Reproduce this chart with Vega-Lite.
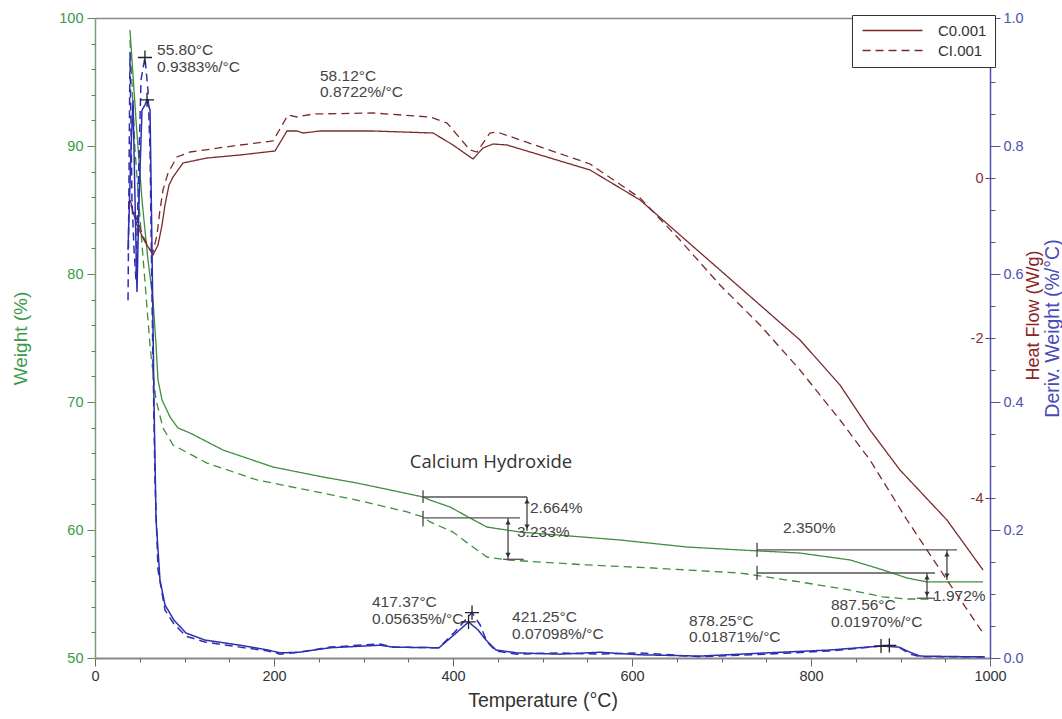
{
  "$schema": "https://vega.github.io/schema/vega-lite/v6.json",
  "width": 895,
  "height": 640,
  "autosize": {"type": "none"},
  "padding": {"left": 95, "top": 18, "right": 72, "bottom": 61},
  "background": "white",
  "config": {
    "view": {"stroke": null},
    "font": "Liberation Sans",
    "axis": {"grid": false, "labelFont": "Liberation Sans", "titleFont": "Liberation Sans", "titleFontWeight": "normal"}
  },
  "datasets": {
    "weight": [
      {"T": 39.1, "w": 99.06, "s": "C0.001"}, {"T": 45.8, "w": 92.03, "s": "C0.001"}, {"T": 52.5, "w": 85.78, "s": "C0.001"},
      {"T": 59.2, "w": 81.09, "s": "C0.001"}, {"T": 64.8, "w": 77.97, "s": "C0.001"}, {"T": 68.2, "w": 74.45, "s": "C0.001"},
      {"T": 70.4, "w": 71.72, "s": "C0.001"}, {"T": 74.9, "w": 70.16, "s": "C0.001"}, {"T": 83.8, "w": 68.83, "s": "C0.001"},
      {"T": 92.7, "w": 67.97, "s": "C0.001"}, {"T": 106.1, "w": 67.58, "s": "C0.001"}, {"T": 143.0, "w": 66.25, "s": "C0.001"},
      {"T": 198.9, "w": 64.92, "s": "C0.001"}, {"T": 254.7, "w": 64.14, "s": "C0.001"}, {"T": 292.7, "w": 63.67, "s": "C0.001"},
      {"T": 329.6, "w": 63.13, "s": "C0.001"}, {"T": 366.5, "w": 62.58, "s": "C0.001"}, {"T": 374.3, "w": 62.34, "s": "C0.001"},
      {"T": 396.6, "w": 61.80, "s": "C0.001"}, {"T": 419.0, "w": 60.94, "s": "C0.001"}, {"T": 438.0, "w": 60.23, "s": "C0.001"},
      {"T": 474.9, "w": 59.84, "s": "C0.001"}, {"T": 530.7, "w": 59.53, "s": "C0.001"}, {"T": 586.6, "w": 59.22, "s": "C0.001"},
      {"T": 661.5, "w": 58.67, "s": "C0.001"}, {"T": 720.7, "w": 58.44, "s": "C0.001"}, {"T": 787.7, "w": 58.20, "s": "C0.001"},
      {"T": 843.6, "w": 57.66, "s": "C0.001"}, {"T": 880.4, "w": 56.88, "s": "C0.001"}, {"T": 907.3, "w": 56.25, "s": "C0.001"},
      {"T": 929.6, "w": 55.94, "s": "C0.001"}, {"T": 992.2, "w": 55.94, "s": "C0.001"},
      {"T": 39.1, "w": 98.28, "s": "CI.001"}, {"T": 44.7, "w": 89.69, "s": "CI.001"}, {"T": 52.5, "w": 82.34, "s": "CI.001"},
      {"T": 61.5, "w": 74.38, "s": "CI.001"}, {"T": 68.2, "w": 70.16, "s": "CI.001"}, {"T": 76.0, "w": 67.97, "s": "CI.001"},
      {"T": 87.2, "w": 66.64, "s": "CI.001"}, {"T": 125.1, "w": 65.23, "s": "CI.001"}, {"T": 181.0, "w": 63.91, "s": "CI.001"},
      {"T": 236.9, "w": 63.13, "s": "CI.001"}, {"T": 292.7, "w": 62.34, "s": "CI.001"}, {"T": 348.6, "w": 61.41, "s": "CI.001"},
      {"T": 366.5, "w": 61.02, "s": "CI.001"}, {"T": 374.3, "w": 60.63, "s": "CI.001"}, {"T": 400.0, "w": 59.84, "s": "CI.001"},
      {"T": 419.0, "w": 58.83, "s": "CI.001"}, {"T": 438.0, "w": 57.89, "s": "CI.001"}, {"T": 460.3, "w": 57.66, "s": "CI.001"},
      {"T": 549.7, "w": 57.27, "s": "CI.001"}, {"T": 623.5, "w": 57.03, "s": "CI.001"}, {"T": 720.7, "w": 56.64, "s": "CI.001"},
      {"T": 787.7, "w": 55.94, "s": "CI.001"}, {"T": 843.6, "w": 55.31, "s": "CI.001"}, {"T": 880.4, "w": 54.77, "s": "CI.001"},
      {"T": 907.3, "w": 54.61, "s": "CI.001"}, {"T": 938.5, "w": 54.61, "s": "CI.001"}
    ],
    "heat": [
      {"T": 40.2, "h": -0.338, "s": "C0.001"}, {"T": 46.9, "h": -0.588, "s": "C0.001"}, {"T": 54.7, "h": -0.775, "s": "C0.001"},
      {"T": 61.5, "h": -0.9, "s": "C0.001"}, {"T": 64.8, "h": -0.963, "s": "C0.001"}, {"T": 70.4, "h": -0.838, "s": "C0.001"},
      {"T": 74.9, "h": -0.588, "s": "C0.001"}, {"T": 78.2, "h": -0.338, "s": "C0.001"}, {"T": 82.7, "h": -0.088, "s": "C0.001"},
      {"T": 87.2, "h": 0.0125, "s": "C0.001"}, {"T": 98.3, "h": 0.1875, "s": "C0.001"}, {"T": 125.1, "h": 0.25, "s": "C0.001"},
      {"T": 162.0, "h": 0.2875, "s": "C0.001"}, {"T": 201.1, "h": 0.3375, "s": "C0.001"}, {"T": 214.5, "h": 0.5875, "s": "C0.001"},
      {"T": 225.7, "h": 0.5875, "s": "C0.001"}, {"T": 232.4, "h": 0.5625, "s": "C0.001"}, {"T": 251.4, "h": 0.5875, "s": "C0.001"},
      {"T": 310.6, "h": 0.5875, "s": "C0.001"}, {"T": 377.7, "h": 0.5625, "s": "C0.001"}, {"T": 400.0, "h": 0.4125, "s": "C0.001"},
      {"T": 422.3, "h": 0.2375, "s": "C0.001"}, {"T": 433.5, "h": 0.375, "s": "C0.001"}, {"T": 444.7, "h": 0.425, "s": "C0.001"},
      {"T": 460.3, "h": 0.4125, "s": "C0.001"}, {"T": 553.1, "h": 0.1, "s": "C0.001"}, {"T": 609.0, "h": -0.275, "s": "C0.001"},
      {"T": 653.6, "h": -0.7125, "s": "C0.001"}, {"T": 698.3, "h": -1.15, "s": "C0.001"}, {"T": 743.0, "h": -1.5875, "s": "C0.001"},
      {"T": 787.7, "h": -2.025, "s": "C0.001"}, {"T": 832.4, "h": -2.5875, "s": "C0.001"}, {"T": 865.9, "h": -3.15, "s": "C0.001"},
      {"T": 899.4, "h": -3.65, "s": "C0.001"}, {"T": 951.9, "h": -4.275, "s": "C0.001"}, {"T": 992.2, "h": -4.9, "s": "C0.001"},
      {"T": 39.1, "h": -0.275, "s": "CI.001"}, {"T": 46.9, "h": -0.525, "s": "CI.001"}, {"T": 54.7, "h": -0.75, "s": "CI.001"},
      {"T": 61.5, "h": -0.9, "s": "CI.001"}, {"T": 64.8, "h": -0.925, "s": "CI.001"}, {"T": 69.3, "h": -0.7125, "s": "CI.001"},
      {"T": 72.6, "h": -0.4, "s": "CI.001"}, {"T": 76.0, "h": -0.15, "s": "CI.001"}, {"T": 81.6, "h": 0.0625, "s": "CI.001"},
      {"T": 91.6, "h": 0.2625, "s": "CI.001"}, {"T": 106.1, "h": 0.325, "s": "CI.001"}, {"T": 162.0, "h": 0.4125, "s": "CI.001"},
      {"T": 198.9, "h": 0.4625, "s": "CI.001"}, {"T": 215.6, "h": 0.7875, "s": "CI.001"}, {"T": 225.7, "h": 0.7625, "s": "CI.001"},
      {"T": 243.6, "h": 0.8, "s": "CI.001"}, {"T": 310.6, "h": 0.8125, "s": "CI.001"}, {"T": 374.3, "h": 0.7625, "s": "CI.001"},
      {"T": 393.3, "h": 0.6875, "s": "CI.001"}, {"T": 419.0, "h": 0.35, "s": "CI.001"}, {"T": 426.8, "h": 0.325, "s": "CI.001"},
      {"T": 441.3, "h": 0.5625, "s": "CI.001"}, {"T": 449.2, "h": 0.575, "s": "CI.001"}, {"T": 553.1, "h": 0.175, "s": "CI.001"},
      {"T": 609.0, "h": -0.25, "s": "CI.001"}, {"T": 653.6, "h": -0.775, "s": "CI.001"}, {"T": 698.3, "h": -1.3375, "s": "CI.001"},
      {"T": 743.0, "h": -1.8375, "s": "CI.001"}, {"T": 787.7, "h": -2.4, "s": "CI.001"}, {"T": 832.4, "h": -3.025, "s": "CI.001"},
      {"T": 865.9, "h": -3.525, "s": "CI.001"}, {"T": 907.3, "h": -4.275, "s": "CI.001"}, {"T": 951.9, "h": -5.025, "s": "CI.001"},
      {"T": 992.2, "h": -5.6875, "s": "CI.001"}
    ],
    "deriv": [
      {"T": 36.9, "d": 0.6375, "s": "C0.001"}, {"T": 40.2, "d": 0.794, "s": "C0.001"}, {"T": 42.5, "d": 0.872, "s": "C0.001"},
      {"T": 44.7, "d": 0.716, "s": "C0.001"}, {"T": 46.9, "d": 0.572, "s": "C0.001"}, {"T": 49.2, "d": 0.716, "s": "C0.001"},
      {"T": 52.5, "d": 0.856, "s": "C0.001"}, {"T": 55.8, "d": 0.864, "s": "C0.001"}, {"T": 58.12, "d": 0.8722, "s": "C0.001"},
      {"T": 61.5, "d": 0.856, "s": "C0.001"}, {"T": 63.7, "d": 0.6375, "s": "C0.001"}, {"T": 65.9, "d": 0.403, "s": "C0.001"},
      {"T": 68.2, "d": 0.216, "s": "C0.001"}, {"T": 72.6, "d": 0.122, "s": "C0.001"}, {"T": 78.2, "d": 0.083, "s": "C0.001"},
      {"T": 88.3, "d": 0.059, "s": "C0.001"}, {"T": 101.7, "d": 0.039, "s": "C0.001"}, {"T": 122.9, "d": 0.028, "s": "C0.001"},
      {"T": 162.0, "d": 0.02, "s": "C0.001"}, {"T": 193.3, "d": 0.0125, "s": "C0.001"}, {"T": 206.7, "d": 0.008, "s": "C0.001"},
      {"T": 227.9, "d": 0.009, "s": "C0.001"}, {"T": 262.6, "d": 0.016, "s": "C0.001"}, {"T": 318.4, "d": 0.02, "s": "C0.001"},
      {"T": 333.0, "d": 0.017, "s": "C0.001"}, {"T": 384.4, "d": 0.016, "s": "C0.001"}, {"T": 402.2, "d": 0.0375, "s": "C0.001"},
      {"T": 417.37, "d": 0.05635, "s": "C0.001"}, {"T": 427.9, "d": 0.044, "s": "C0.001"}, {"T": 436.9, "d": 0.028, "s": "C0.001"},
      {"T": 448.0, "d": 0.0125, "s": "C0.001"}, {"T": 471.5, "d": 0.008, "s": "C0.001"}, {"T": 519.6, "d": 0.006, "s": "C0.001"},
      {"T": 564.2, "d": 0.009, "s": "C0.001"}, {"T": 609.0, "d": 0.005, "s": "C0.001"}, {"T": 676.0, "d": 0.003, "s": "C0.001"},
      {"T": 750.8, "d": 0.008, "s": "C0.001"}, {"T": 821.2, "d": 0.0125, "s": "C0.001"}, {"T": 878.25, "d": 0.01871, "s": "C0.001"},
      {"T": 898.3, "d": 0.017, "s": "C0.001"}, {"T": 910.6, "d": 0.009, "s": "C0.001"}, {"T": 921.8, "d": 0.003, "s": "C0.001"},
      {"T": 994.4, "d": 0.0016, "s": "C0.001"},
      {"T": 36.9, "d": 0.559, "s": "CI.001"}, {"T": 39.1, "d": 0.947, "s": "CI.001"}, {"T": 41.3, "d": 0.716, "s": "CI.001"},
      {"T": 43.6, "d": 0.639, "s": "CI.001"}, {"T": 45.8, "d": 0.591, "s": "CI.001"}, {"T": 48.0, "d": 0.716, "s": "CI.001"},
      {"T": 51.4, "d": 0.903, "s": "CI.001"}, {"T": 55.8, "d": 0.9383, "s": "CI.001"}, {"T": 59.2, "d": 0.8875, "s": "CI.001"},
      {"T": 61.5, "d": 0.794, "s": "CI.001"}, {"T": 63.7, "d": 0.559, "s": "CI.001"}, {"T": 67.0, "d": 0.278, "s": "CI.001"},
      {"T": 70.4, "d": 0.1375, "s": "CI.001"}, {"T": 78.2, "d": 0.075, "s": "CI.001"}, {"T": 88.3, "d": 0.053, "s": "CI.001"},
      {"T": 101.7, "d": 0.034, "s": "CI.001"}, {"T": 122.9, "d": 0.025, "s": "CI.001"}, {"T": 162.0, "d": 0.017, "s": "CI.001"},
      {"T": 193.3, "d": 0.011, "s": "CI.001"}, {"T": 206.7, "d": 0.006, "s": "CI.001"}, {"T": 227.9, "d": 0.009, "s": "CI.001"},
      {"T": 262.6, "d": 0.017, "s": "CI.001"}, {"T": 318.4, "d": 0.022, "s": "CI.001"}, {"T": 333.0, "d": 0.017, "s": "CI.001"},
      {"T": 384.4, "d": 0.016, "s": "CI.001"}, {"T": 402.2, "d": 0.041, "s": "CI.001"}, {"T": 421.25, "d": 0.07098, "s": "CI.001"},
      {"T": 430.2, "d": 0.052, "s": "CI.001"}, {"T": 438.0, "d": 0.025, "s": "CI.001"}, {"T": 448.0, "d": 0.011, "s": "CI.001"},
      {"T": 471.5, "d": 0.006, "s": "CI.001"}, {"T": 519.6, "d": 0.008, "s": "CI.001"}, {"T": 564.2, "d": 0.006, "s": "CI.001"},
      {"T": 609.0, "d": 0.008, "s": "CI.001"}, {"T": 676.0, "d": 0.002, "s": "CI.001"}, {"T": 750.8, "d": 0.006, "s": "CI.001"},
      {"T": 821.2, "d": 0.011, "s": "CI.001"}, {"T": 887.56, "d": 0.0197, "s": "CI.001"}, {"T": 899.4, "d": 0.016, "s": "CI.001"},
      {"T": 910.6, "d": 0.006, "s": "CI.001"}, {"T": 921.8, "d": 0.002, "s": "CI.001"}, {"T": 994.4, "d": 0.002, "s": "CI.001"}
    ],
    "hrules": [
      {"T": 366.5, "T2": 482.7, "w": 62.58}, {"T": 366.5, "T2": 474.9, "w": 60.94}, {"T": 456.0, "T2": 479.0, "w": 57.71},
      {"T": 739.7, "T2": 963.1, "w": 58.44}, {"T": 739.7, "T2": 938.5, "w": 56.64}, {"T": 918.4, "T2": 938.5, "w": 54.67}
    ],
    "vrules": [
      {"T": 366.5, "w": 63.1, "w2": 62.1}, {"T": 366.5, "w": 61.5, "w2": 60.3}, {"T": 482.7, "w": 62.58, "w2": 59.92},
      {"T": 461.5, "w": 60.94, "w2": 57.71}, {"T": 739.7, "w": 59.0, "w2": 57.9}, {"T": 739.7, "w": 57.2, "w2": 56.1},
      {"T": 951.9, "w": 58.44, "w2": 56.09}, {"T": 929.6, "w": 56.64, "w2": 54.67}
    ],
    "arrows": [
      {"T": 482.7, "w": 62.25, "dir": "up"}, {"T": 482.7, "w": 60.25, "dir": "down"},
      {"T": 461.5, "w": 60.61, "dir": "up"}, {"T": 461.5, "w": 58.04, "dir": "down"},
      {"T": 951.9, "w": 58.11, "dir": "up"}, {"T": 951.9, "w": 56.42, "dir": "down"},
      {"T": 929.6, "w": 56.31, "dir": "up"}, {"T": 929.6, "w": 55.0, "dir": "down"}
    ],
    "wtext": [
      {"T": 486.0, "w": 61.72, "label": "2.664%"}, {"T": 471.5, "w": 59.84, "label": "3.233%"},
      {"T": 768.7, "w": 60.16, "label": "2.350%"}, {"T": 936.3, "w": 54.84, "label": "1.972%"}
    ],
    "dtext": [
      {"T": 69.3, "d": 0.95, "label": "55.80°C"}, {"T": 69.3, "d": 0.923, "label": "0.9383%/°C"},
      {"T": 251.4, "d": 0.909, "label": "58.12°C"}, {"T": 251.4, "d": 0.884, "label": "0.8722%/°C"},
      {"T": 309.5, "d": 0.0875, "label": "417.37°C"}, {"T": 309.5, "d": 0.061, "label": "0.05635%/°C"},
      {"T": 466.0, "d": 0.064, "label": "421.25°C"}, {"T": 466.0, "d": 0.0375, "label": "0.07098%/°C"},
      {"T": 663.7, "d": 0.058, "label": "878.25°C"}, {"T": 663.7, "d": 0.033, "label": "0.01871%/°C"},
      {"T": 822.3, "d": 0.083, "label": "887.56°C"}, {"T": 822.3, "d": 0.056, "label": "0.01970%/°C"}
    ],
    "dmark": [
      {"T": 55.8, "d": 0.9383}, {"T": 58.12, "d": 0.8722}, {"T": 417.37, "d": 0.05635},
      {"T": 421.25, "d": 0.07098}, {"T": 878.25, "d": 0.01871}, {"T": 887.56, "d": 0.0197}
    ],
    "title": [{"T": 442.5, "w": 65.31, "label": "Calcium Hydroxide"}]
  },
  "resolve": {"scale": {"y": "independent"}, "axis": {"x": "independent", "y": "independent"}},
  "layer": [
    {
      "data": {"name": "weight"},
      "mark": {"type": "line", "color": "#3f8f3f", "strokeWidth": 1.3},
      "encoding": {
        "x": {"field": "T", "type": "quantitative", "scale": {"domain": [0, 1000], "nice": false},
          "axis": {"orient": "bottom", "values": [0, 200, 400, 600, 800, 1000], "format": "d", "tickSize": 8, "tickColor": "#666", "domainColor": "#888", "domainWidth": 2,
            "labelColor": "#333", "labelFontSize": 14.5, "labelPadding": 3, "labelFlush": false,
            "title": "Temperature (°C)", "titleFontSize": 19.5, "titleColor": "#333", "titlePadding": 9}},
        "y": {"field": "w", "type": "quantitative", "scale": {"domain": [50, 100], "nice": false, "zero": false},
          "axis": {"orient": "left", "values": [50, 60, 70, 80, 90, 100], "tickSize": 8, "tickColor": "#5a8a5a", "domainColor": "#7a9a7a", "domainWidth": 1.5,
            "labelColor": "#3a9a4a", "labelFontSize": 14.5, "labelPadding": 4,
            "title": "Weight (%)", "titleColor": "#3a9a4a", "titleFontSize": 19, "titleX": -75, "titleBaseline": "middle"}},
        "strokeDash": {"field": "s", "type": "nominal", "scale": {"domain": ["C0.001", "CI.001"], "range": [[1, 0], [8, 5]]},
          "legend": {"orient": "none", "legendX": 757, "legendY": -3, "title": null, "symbolType": "M-6,0L6,0", "symbolSize": 100, "symbolOffset": 25,
            "symbolStrokeWidth": 1.3, "symbolStrokeColor": "#222", "labelFontSize": 15, "labelColor": "#333", "labelOffset": 38,
            "padding": 8, "rowPadding": 4, "strokeColor": "#333", "fillColor": "white", "labelLimit": 90}}
      }
    },
    {
      "data": {"name": "weight"},
      "mark": {"type": "point", "opacity": 0},
      "encoding": {
        "x": {"field": "T", "type": "quantitative", "scale": {"domain": [0, 1000], "nice": false},
          "axis": {"orient": "bottom", "values": [50, 100, 150, 250, 300, 350, 450, 500, 550, 650, 700, 750, 850, 900, 950], "tickSize": 4, "tickColor": "#666",
            "labels": false, "domain": false, "title": null}},
        "y": {"field": "w", "type": "quantitative", "scale": {"domain": [50, 100], "nice": false, "zero": false},
          "axis": {"orient": "left", "values": [52, 54, 56, 58, 62, 64, 66, 68, 72, 74, 76, 78, 82, 84, 86, 88, 92, 94, 96, 98], "tickSize": 4, "tickColor": "#5a8a5a",
            "labels": false, "domain": false, "title": null}}
      }
    },
    {
      "data": {"name": "hrules"},
      "mark": {"type": "rule", "color": "#555", "strokeWidth": 1.3},
      "encoding": {
        "x": {"field": "T", "type": "quantitative", "scale": {"domain": [0, 1000], "nice": false},
          "axis": {"orient": "top", "ticks": false, "labels": false, "domainColor": "#888", "domainWidth": 1.5, "title": null}},
        "x2": {"field": "T2"},
        "y": {"field": "w", "type": "quantitative", "scale": {"domain": [50, 100], "nice": false, "zero": false}, "axis": null}
      }
    },
    {
      "data": {"name": "vrules"},
      "mark": {"type": "rule", "color": "#444", "strokeWidth": 1.3},
      "encoding": {
        "x": {"field": "T", "type": "quantitative", "scale": {"domain": [0, 1000], "nice": false}, "axis": null},
        "y": {"field": "w", "type": "quantitative", "scale": {"domain": [50, 100], "nice": false, "zero": false}, "axis": null},
        "y2": {"field": "w2"}
      }
    },
    {
      "data": {"name": "arrows"},
      "mark": {"type": "point", "filled": true, "color": "#333", "size": 28, "opacity": 1},
      "encoding": {
        "x": {"field": "T", "type": "quantitative", "scale": {"domain": [0, 1000], "nice": false}, "axis": null},
        "y": {"field": "w", "type": "quantitative", "scale": {"domain": [50, 100], "nice": false, "zero": false}, "axis": null},
        "shape": {"field": "dir", "type": "nominal", "scale": {"domain": ["up", "down"], "range": ["triangle-up", "triangle-down"]}, "legend": null}
      }
    },
    {
      "data": {"name": "wtext"},
      "mark": {"type": "text", "align": "left", "baseline": "middle", "font": "Liberation Sans", "fontSize": 15.5, "color": "#444"},
      "encoding": {
        "x": {"field": "T", "type": "quantitative", "scale": {"domain": [0, 1000], "nice": false}, "axis": null},
        "y": {"field": "w", "type": "quantitative", "scale": {"domain": [50, 100], "nice": false, "zero": false}, "axis": null},
        "text": {"field": "label"}
      }
    },
    {
      "data": {"name": "title"},
      "mark": {"type": "text", "align": "center", "baseline": "middle", "font": "Open Sans", "fontSize": 18.5, "color": "#333"},
      "encoding": {
        "x": {"field": "T", "type": "quantitative", "scale": {"domain": [0, 1000], "nice": false}, "axis": null},
        "y": {"field": "w", "type": "quantitative", "scale": {"domain": [50, 100], "nice": false, "zero": false}, "axis": null},
        "text": {"field": "label"}
      }
    },
    {
      "data": {"name": "heat"},
      "mark": {"type": "line", "color": "#7a2a2a", "strokeWidth": 1.3},
      "encoding": {
        "x": {"field": "T", "type": "quantitative", "scale": {"domain": [0, 1000], "nice": false}, "axis": null},
        "y": {"field": "h", "type": "quantitative", "scale": {"domain": [-6, 2], "nice": false, "zero": false},
          "axis": {"orient": "left", "offset": -895, "values": [0, -2, -4], "labelExpr": "'' + datum.value", "tickSize": 5, "tickColor": "#7a3a3a", "domain": false,
            "labelColor": "#8a3030", "labelFontSize": 14.5, "labelPadding": 2,
            "title": "Heat Flow (W/g)", "titleColor": "#8a2525", "titleFontSize": 18, "titleX": 43, "titleY": 297, "titleAngle": 270, "titleBaseline": "middle"}},
        "strokeDash": {"field": "s", "type": "nominal", "scale": {"domain": ["C0.001", "CI.001"], "range": [[1, 0], [8, 5]]}}
      }
    },
    {
      "data": {"name": "deriv"},
      "mark": {"type": "line", "color": "#2e2eb0", "strokeWidth": 1.5},
      "encoding": {
        "x": {"field": "T", "type": "quantitative", "scale": {"domain": [0, 1000], "nice": false}, "axis": null},
        "y": {"field": "d", "type": "quantitative", "scale": {"domain": [0, 1], "nice": false},
          "axis": {"orient": "right", "values": [0, 0.2, 0.4, 0.6, 0.8, 1], "format": ".1f", "tickSize": 10, "tickColor": "#5050b0", "domainColor": "#5050b0", "domainWidth": 1.5,
            "labelColor": "#5050b0", "labelFontSize": 14.5, "labelPadding": 3,
            "title": "Deriv. Weight (%/°C)", "titleColor": "#4a4ab8", "titleFontSize": 19.5, "titleAngle": 270, "titleX": 62, "titleY": 310, "titleBaseline": "middle"}},
        "strokeDash": {"field": "s", "type": "nominal", "scale": {"domain": ["C0.001", "CI.001"], "range": [[1, 0], [8, 5]]}}
      }
    },
    {
      "data": {"name": "deriv"},
      "mark": {"type": "point", "opacity": 0},
      "encoding": {
        "x": {"field": "T", "type": "quantitative", "scale": {"domain": [0, 1000], "nice": false}, "axis": null},
        "y": {"field": "d", "type": "quantitative", "scale": {"domain": [0, 1], "nice": false},
          "axis": {"orient": "right", "values": [0.05, 0.1, 0.15, 0.25, 0.3, 0.35, 0.45, 0.5, 0.55, 0.65, 0.7, 0.75, 0.85, 0.9, 0.95], "tickSize": 5, "tickColor": "#5050b0",
            "labels": false, "domain": false, "title": null}}
      }
    },
    {
      "data": {"name": "dtext"},
      "mark": {"type": "text", "align": "left", "baseline": "middle", "font": "Liberation Sans", "fontSize": 15.5, "color": "#444"},
      "encoding": {
        "x": {"field": "T", "type": "quantitative", "scale": {"domain": [0, 1000], "nice": false}, "axis": null},
        "y": {"field": "d", "type": "quantitative", "scale": {"domain": [0, 1], "nice": false}, "axis": null},
        "text": {"field": "label"}
      }
    },
    {
      "data": {"name": "dmark"},
      "mark": {"type": "point", "shape": "M-1,0L1,0M0,-1L0,1", "size": 200, "filled": false, "stroke": "#222", "strokeWidth": 1.3, "opacity": 1},
      "encoding": {
        "x": {"field": "T", "type": "quantitative", "scale": {"domain": [0, 1000], "nice": false}, "axis": null},
        "y": {"field": "d", "type": "quantitative", "scale": {"domain": [0, 1], "nice": false}, "axis": null}
      }
    }
  ]
}
